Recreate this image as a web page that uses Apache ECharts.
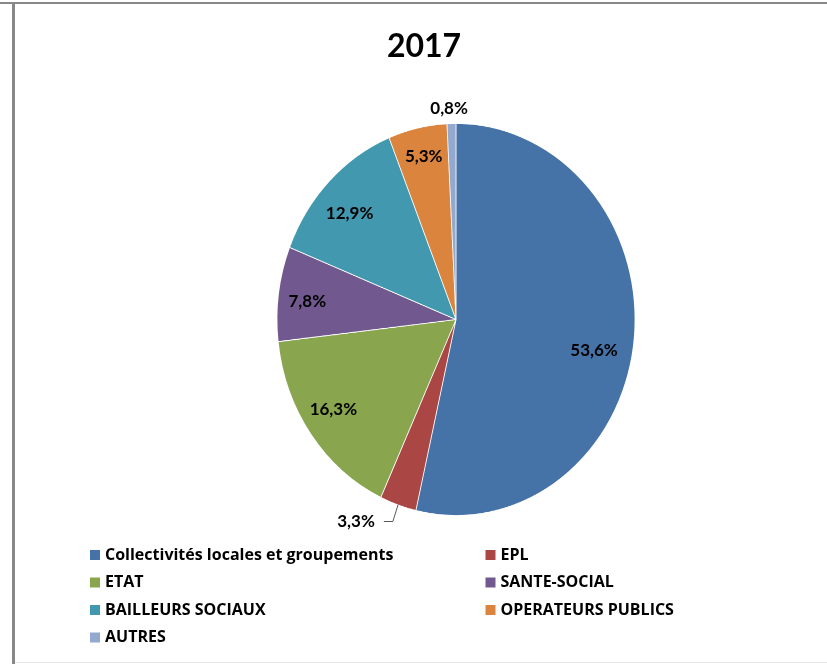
<!DOCTYPE html>
<html><head><meta charset="utf-8">
<script src="https://cdn.jsdelivr.net/npm/echarts@6/dist/echarts.min.js"></script>
<style>
html,body{margin:0;padding:0;background:#fff;width:827px;height:664px;overflow:hidden}
#pie{position:absolute;left:0;top:0;width:827px;height:664px;transform-origin:0 319.5px;transform:scaleY(1.095)}
#top{position:absolute;left:0;top:0;width:827px;height:664px}
</style></head><body>
<div id="pie"></div><div id="top"></div>
<script>
const categories = ['Collectivités locales et groupements','EPL','ETAT','SANTE-SOCIAL','BAILLEURS SOCIAUX','OPERATEURS PUBLICS','AUTRES'];
const values = [53.6, 3.3, 16.3, 7.8, 12.9, 5.3, 0.8];
const colors = ['#4572A7','#AA4643','#89A54E','#71588F','#4198AF','#DB843D','#93A9CF'];
const titleText = '2017';

const CX = 456, CY = 319.5, R = 179, K = 1.095;
const FONT = 'Lato, "Noto Sans", sans-serif';
const LFONT = '"Open Sans", Lato, sans-serif';
const fmt = v => v.toFixed(1).replace('.', ',') + '%';
// small label nudges (Excel-style placement)
const nudge = {0: [-11, 12], 2: [-1, -6], 3: [0, 4], 4: [0, 10], 5: [0, -3], 6: [3, 2], 1: [-4, 0]};

// Bottom layer: the pie itself (stretched vertically into the ellipse of the reference)
const pieChart = echarts.init(document.getElementById('pie'), null, {devicePixelRatio: 2});
pieChart.setOption({
  animation: false,
  series: [{
    type: 'pie', center: [CX, CY], radius: R, startAngle: 90, clockwise: true,
    silent: true, label: {show: false}, labelLine: {show: false},
    itemStyle: {borderColor: '#fff', borderWidth: 0.8},
    data: categories.map((c, i) => ({name: c, value: values[i], itemStyle: {color: colors[i]}}))
  }]
});

// Top layer: title, legend, labels, frame
const topChart = echarts.init(document.getElementById('top'));
const outside = {1: {length: 16, length2: 9, show: true}, 6: {length: 16, length2: 0, show: false}};
topChart.setOption({
  animation: false,
  title: {text: titleText, left: 419, top: 26, textAlign: 'center',
    textStyle: {fontFamily: FONT, fontWeight: 'bold', fontSize: 32, color: '#000'}},
  legend: {
    left: 85, top: 541, width: 800, orient: 'horizontal', icon: 'rect',
    itemWidth: 10, itemHeight: 10, itemGap: 9.5, selectedMode: false,
    itemStyle: {opacity: 1},
    textStyle: {fontFamily: LFONT, fontWeight: 'bold', fontSize: 16, color: '#000', width: 371, lineHeight: 18},
    data: categories
  },
  graphic: [
    {type: 'rect', shape: {x: 0, y: 2, width: 827, height: 2}, style: {fill: '#888'}, silent: true},
    {type: 'rect', shape: {x: 12, y: 2, width: 3, height: 662}, style: {fill: '#888'}, silent: true},
    {type: 'rect', shape: {x: 15, y: 662, width: 812, height: 1}, style: {fill: '#e8e8e8'}, silent: true}
  ],
  series: [{
    type: 'pie', center: [CX, CY], radius: [115, R], startAngle: 90, clockwise: true,
    silent: true, avoidLabelOverlap: false, emphasis: {disabled: true},
    itemStyle: {opacity: 0},
    label: {show: true, position: 'inside', color: '#000', opacity: 1, fontFamily: FONT, fontWeight: 'bold', fontSize: 17,
      formatter: p => fmt(p.value)},
    labelLine: {lineStyle: {color: '#595959', width: 1, opacity: 1}},
    labelLayout: function (p) {
      const c = p.labelRect.y + p.labelRect.height / 2;
      const n = nudge[p.dataIndex] || [0, 0];
      const res = {dx: n[0], dy: (c - CY) * (K - 1) + n[1]};
      if (p.labelLinePoints) {
        res.labelLinePoints = p.labelLinePoints.map(pt => [pt[0], CY + (pt[1] - CY) * K]);
      }
      if (p.dataIndex === 6) res.align = 'center';
      return res;
    },
    data: categories.map((c, i) => {
      const d = {name: c, value: values[i], itemStyle: {color: colors[i], opacity: 0}};
      if (outside[i]) {
        d.label = {position: 'outside'};
        d.labelLine = {show: outside[i].show, length: outside[i].length, length2: outside[i].length2};
      }
      return d;
    })
  }]
});
</script>
</body></html>
